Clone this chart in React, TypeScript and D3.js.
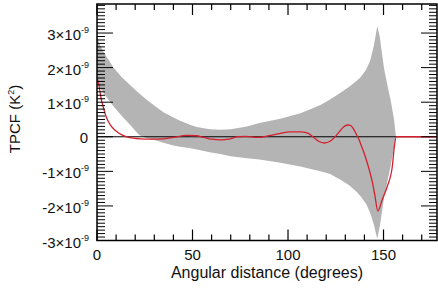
import React from "react";
import * as d3 from "d3";

// Envelope (grey band), units of 1e-9 K^2
const bandAngles = [0, 1.6, 4, 8.6, 13, 17.3, 22, 26, 31, 34.8, 40, 43.5, 49, 52.3, 59, 64.5, 70, 78.5, 85, 96, 106.5, 112, 117, 122, 127.5, 132, 136, 138, 141, 143, 145, 146.7, 148, 150.2, 152, 153.7, 155.5, 156.5];
const bandUpper = [2.9, 2.65, 2.4, 2.0, 1.72, 1.5, 1.26, 1.07, 0.86, 0.71, 0.56, 0.46, 0.34, 0.28, 0.22, 0.2, 0.22, 0.3, 0.4, 0.52, 0.68, 0.8, 0.92, 1.08, 1.27, 1.45, 1.62, 1.72, 1.95, 2.2, 2.65, 3.2, 2.9, 2.0, 1.5, 1.07, 0.5, 0.0];
const bandLower = [1.6, 1.42, 1.22, 0.88, 0.6, 0.35, 0.05, -0.04, -0.11, -0.17, -0.25, -0.29, -0.33, -0.37, -0.45, -0.5, -0.56, -0.62, -0.66, -0.75, -0.86, -0.93, -1.0, -1.08, -1.24, -1.4, -1.6, -1.72, -1.95, -2.2, -2.55, -2.95, -2.6, -1.8, -1.3, -0.85, -0.3, 0.0];

// Measured TPCF (red curve)
const tpcfAngles = [0, 1, 2, 3.3, 5, 6.8, 8.5, 10.3, 12.5, 15.6, 19, 22.6, 28, 35, 40, 47, 52, 56, 60, 65, 69, 73.5, 78, 84, 90, 96, 101, 106.5, 110, 113.5, 116, 119, 122, 124, 126.5, 129.2, 131, 132.7, 134, 135.4, 137, 138, 140, 141.5, 143, 144.1, 145.5, 147, 149.3, 152, 154.6, 155.5, 156.7, 160, 178];
const tpcfValues = [1.7, 1.5, 1.15, 0.85, 0.55, 0.36, 0.24, 0.15, 0.07, 0.0, -0.04, -0.06, -0.07, -0.06, -0.02, 0.04, 0.03, -0.02, -0.07, -0.09, -0.07, 0.0, 0.01, -0.02, 0.03, 0.1, 0.14, 0.14, 0.11, -0.02, -0.13, -0.18, -0.13, -0.04, 0.12, 0.29, 0.34, 0.33, 0.25, 0.11, -0.06, -0.2, -0.5, -0.76, -1.05, -1.3, -1.7, -2.15, -1.82, -1.43, -0.86, -0.37, 0, 0, 0];

const xTicks = [0, 50, 100, 150];
const yTicks = [-3, -2, -1, 0, 1, 2, 3];
const yTickLabels = ["-3×10", "-2×10", "-1×10", "0", "1×10", "2×10", "3×10"];

const W = 438, H = 290;
const L = 97, R = 437, T = 4, B = 240.5;

export default function App() {
  const x = d3.scaleLinear().domain([0, 178]).range([L, R]);
  const y = d3.scaleLinear().domain([-3, 3.84]).range([B, T]);

  const idx = d3.range(bandAngles.length);
  const area = d3
    .area<number>()
    .x((i) => x(bandAngles[i]))
    .y0((i) => y(bandLower[i]))
    .y1((i) => y(bandUpper[i]));

  const ridx = d3.range(tpcfAngles.length);
  const line = d3
    .line<number>()
    .x((i) => x(tpcfAngles[i]))
    .y((i) => y(tpcfValues[i]))
    .curve(d3.curveMonotoneX);

  const xMinor = d3.range(0, 179, 10);
  const yMinor = d3.range(-30, 39, 1).map((v) => v / 10);
  const font = "'Liberation Sans', Arial, Helvetica, sans-serif";

  return (
    <svg width={W} height={H} style={{ position: "absolute", left: 0, top: 0, background: "#fff" }} fontFamily={font}>
      <defs>
        <clipPath id="plotclip">
          <rect x={L} y={T} width={R - L} height={B - T} />
        </clipPath>
      </defs>
      <g clipPath="url(#plotclip)">
        <path d={area(idx) || ""} fill="#b4b4b4" stroke="none" />
        <line x1={L} x2={R} y1={y(0)} y2={y(0)} stroke="#000" strokeWidth={1} />
        <path d={line(ridx) || ""} fill="none" stroke="#d4202e" strokeWidth={1.3} />
      </g>

      {/* x ticks */}
      {xMinor.map((v) => {
        const major = v % 50 === 0;
        const len = major ? 11 : 6;
        return (
          <g key={"xt" + v}>
            <line x1={x(v)} x2={x(v)} y1={B} y2={B - len} stroke="#000" strokeWidth={1.2} />
            <line x1={x(v)} x2={x(v)} y1={T} y2={T + len} stroke="#000" strokeWidth={1.2} />
          </g>
        );
      })}
      {/* y ticks */}
      {yMinor.map((v) => {
        const major = Math.abs(v - Math.round(v)) < 1e-6;
        const len = major ? 16 : 8;
        return (
          <g key={"yt" + v}>
            <line x1={L} x2={L + len} y1={y(v)} y2={y(v)} stroke="#000" strokeWidth={1} />
            <line x1={R} x2={R - len} y1={y(v)} y2={y(v)} stroke="#000" strokeWidth={1} />
          </g>
        );
      })}

      <rect x={L} y={T} width={R - L} height={B - T} fill="none" stroke="#000" strokeWidth={1.5} />

      {/* x tick labels */}
      {xTicks.map((v) => (
        <text key={"xl" + v} x={x(v)} y={259.5} textAnchor="middle" fontSize={15} fill="#111">
          {v}
        </text>
      ))}
      {/* y tick labels */}
      {yTicks.map((v, i) =>
        v === 0 ? (
          <text key={"yl" + v} x={88} y={y(v) + 6} textAnchor="end" fontSize={15} fill="#111">
            0
          </text>
        ) : (
          <text key={"yl" + v} x={89} y={y(v) + 7} textAnchor="end" fontSize={15} fill="#111">
            {yTickLabels[i]}
            <tspan fontSize={9} dy={-7}>-9</tspan>
          </text>
        )
      )}

      <text x={267} y={277.5} textAnchor="middle" fontSize={16} fill="#111">
        Angular distance (degrees)
      </text>
      <text transform={`translate(20,119) rotate(-90)`} textAnchor="middle" fontSize={15} fill="#111">
        TPCF (K<tspan fontSize={9} dy={-6}>2</tspan><tspan dy={6}>)</tspan>
      </text>
    </svg>
  );
}
